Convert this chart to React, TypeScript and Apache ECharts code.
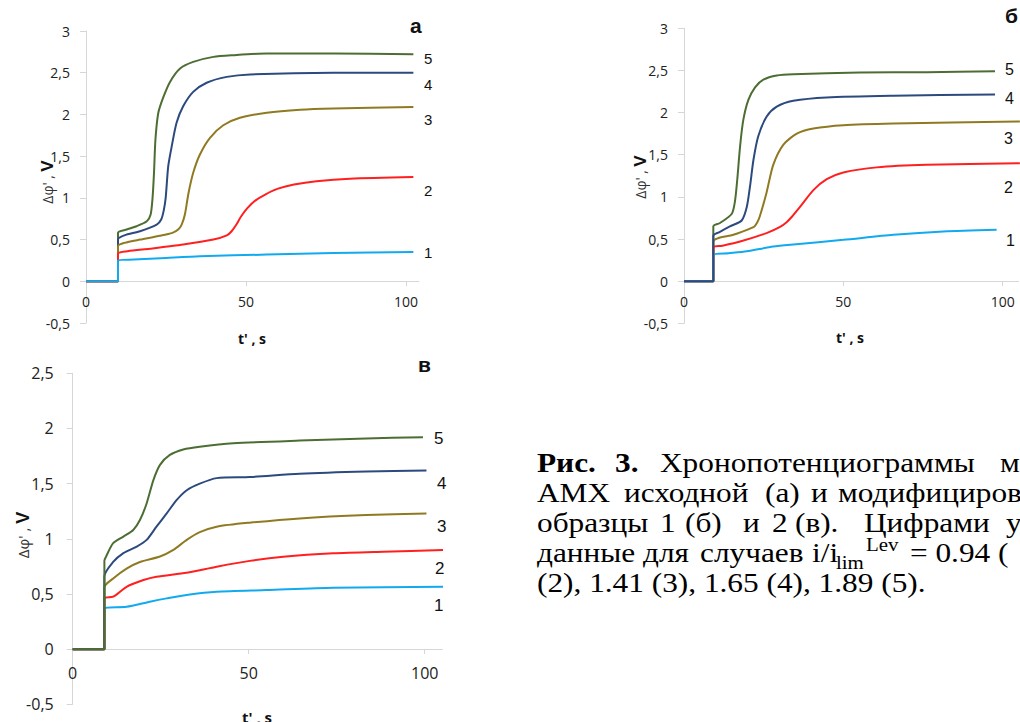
import React, { useEffect, useRef } from "react";
import * as echarts from "echarts";

const SANS = "'Open Sans', 'DejaVu Sans', sans-serif";
const ARIAL = "'Liberation Sans', Arial, sans-serif";
const SERIF = "'Liberation Serif', 'Times New Roman', serif";

// colours of curves 1..5
const curveColors = ["#12aaee", "#ff1f1f", "#8f7a22", "#2c4a7e", "#4d6e33"];
const curveNames = ["1", "2", "3", "4", "5"];

// Panel а — t' (s), Δφ' (V)
const a1 = [[0, 0], [10, 0], [10, 0.25], [15, 0.26], [25, 0.28], [35.6, 0.3], [56.5, 0.32], [77.3, 0.34], [102.3, 0.35]];
const a2 = [[0, 0], [10, 0], [10, 0.33], [13, 0.36], [20, 0.39], [30.4, 0.44], [39.8, 0.5], [44, 0.55], [45.5, 0.6], [47, 0.68], [48.5, 0.78], [50.5, 0.88], [53, 0.97], [56, 1.04], [60, 1.11], [65, 1.16], [72, 1.2], [82.5, 1.23], [102.3, 1.25]];
const a3 = [[0, 0], [10, 0], [10, 0.42], [12, 0.46], [16.9, 0.5], [23.1, 0.545], [27, 0.58], [28.8, 0.62], [29.9, 0.68], [30.9, 0.8], [32, 1.05], [33.5, 1.3], [35.6, 1.52], [38.75, 1.72], [42.9, 1.87], [48.1, 1.96], [56.5, 2.02], [66.9, 2.055], [77.3, 2.07], [102.3, 2.09]];
const a4 = [[0, 0], [10, 0], [10, 0.5], [12, 0.55], [16.9, 0.6], [22.1, 0.68], [23.5, 0.74], [24.3, 0.85], [24.9, 1.0], [25.7, 1.38], [26.8, 1.62], [28.3, 1.9], [30.4, 2.1], [33.5, 2.27], [37.7, 2.38], [44, 2.45], [51.3, 2.48], [77.3, 2.5], [102.3, 2.5]];
const a5 = [[0, 0], [10, 0], [10, 0.58], [12.7, 0.62], [15.8, 0.66], [19, 0.72], [20.2, 0.8], [20.8, 1.0], [21.25, 1.3], [21.7, 1.7], [22.6, 2.02], [24.2, 2.21], [26.25, 2.39], [29.4, 2.55], [33.5, 2.63], [39.8, 2.69], [46, 2.71], [56.5, 2.73], [77.3, 2.73], [102.3, 2.72]];

// Panel б
const b1 = [[0, 0], [9.2, 0], [9.2, 0.31], [14, 0.33], [19.7, 0.355], [28, 0.41], [34.3, 0.435], [50, 0.49], [65.7, 0.55], [81.4, 0.59], [98.1, 0.61]];
const b2 = [[0, 0], [9.2, 0], [9.2, 0.4], [12, 0.42], [17.6, 0.47], [25.9, 0.57], [30, 0.64], [32.2, 0.7], [34, 0.77], [36.4, 0.88], [40.6, 1.08], [44.8, 1.21], [50, 1.29], [60.5, 1.35], [76.2, 1.38], [105.4, 1.4]];
const b3 = [[0, 0], [9.2, 0], [9.2, 0.47], [15.5, 0.55], [21.8, 0.64], [23, 0.7], [23.8, 0.77], [25.9, 1.05], [28, 1.38], [31.2, 1.62], [35.4, 1.75], [40.6, 1.81], [50, 1.85], [65.7, 1.87], [105.4, 1.895]];
const b4 = [[0, 0], [9.2, 0], [9.2, 0.54], [11, 0.58], [14.4, 0.65], [18.1, 0.72], [19.7, 0.88], [20.7, 1.12], [21.8, 1.44], [23.3, 1.72], [25.9, 1.95], [29.1, 2.07], [34.3, 2.14], [44.8, 2.18], [65.7, 2.2], [97.6, 2.215]];
const b5 = [[0, 0], [9.2, 0], [9.2, 0.65], [11.3, 0.69], [15, 0.8], [16, 0.95], [16.7, 1.2], [17.6, 1.6], [18.6, 1.91], [20.2, 2.15], [22.3, 2.3], [24.9, 2.39], [29.1, 2.44], [34.3, 2.455], [55.2, 2.475], [76.2, 2.48], [97.6, 2.49]];

// Panel в
const c1 = [[0, 0], [9, 0], [9, 0.37], [15.3, 0.384], [21.9, 0.43], [26.7, 0.46], [33.3, 0.496], [40.9, 0.52], [55.1, 0.535], [74, 0.556], [105.2, 0.565]];
const c2 = [[0, 0], [9, 0], [9, 0.46], [11.5, 0.475], [15.3, 0.565], [20.1, 0.626], [23.8, 0.656], [32.4, 0.692], [40.9, 0.747], [50.3, 0.8], [59.8, 0.837], [74, 0.868], [88.2, 0.883], [105.2, 0.898]];
const c3 = [[0, 0], [9, 0], [9, 0.56], [11.5, 0.64], [15.3, 0.73], [19.1, 0.79], [24.8, 0.84], [28.6, 0.9], [32.4, 0.99], [36.1, 1.06], [40.9, 1.11], [50.3, 1.146], [64.5, 1.185], [83.4, 1.215], [100.5, 1.23]];
const c4 = [[0, 0], [9, 0], [9, 0.66], [11.5, 0.79], [14.4, 0.87], [18.2, 0.93], [21, 0.99], [23.8, 1.11], [26.7, 1.23], [29.5, 1.35], [32.4, 1.44], [36.1, 1.5], [40.9, 1.55], [50.3, 1.56], [64.5, 1.59], [83.4, 1.61], [100.5, 1.62]];
const c5 = [[0, 0], [9, 0], [9, 0.8], [9.5, 0.84], [11.5, 0.96], [14.4, 1.02], [17.2, 1.08], [19.1, 1.17], [21, 1.32], [22.9, 1.53], [24.8, 1.67], [27.6, 1.76], [31.4, 1.81], [36.1, 1.835], [45.6, 1.865], [64.5, 1.89], [83.4, 1.91], [99.5, 1.92]];

const panelA = [a1, a2, a3, a4, a5];
const panelB = [b1, b2, b3, b4, b5];
const panelC = [c1, c2, c3, c4, c5];

// tick values
const xTicks = [0, 50, 100];
const xMinorTicks = [50, 100];

const decimalComma = (v: number) => String(v).replace(".", ",");

// the time axis crosses the potential axis at zero; offset lifts it from the grid bottom
function xAxisFor(gridIndex: number, max: number, lift: number, margin: number, fontSize: number) {
  return {
    gridIndex,
    type: "value",
    min: 0,
    max,
    interval: 50,
    offset: -lift,
    axisLine: { onZero: false, lineStyle: { color: "#d6d6d6", width: 1 } },
    axisTick: { customValues: xMinorTicks, length: 5, lineStyle: { color: "#d6d6d6" } },
    axisLabel: { customValues: xTicks, margin, fontSize, color: "#222", fontFamily: SANS },
    splitLine: { show: false },
  };
}

function yAxisFor(gridIndex: number, max: number, margin: number, fontSize: number) {
  return {
    gridIndex,
    type: "value",
    min: -0.5,
    max,
    interval: 0.5,
    axisLine: { show: true, onZero: false, lineStyle: { color: "#d6d6d6", width: 1 } },
    axisTick: { show: true, length: 6, lineStyle: { color: "#d6d6d6" } },
    axisLabel: { margin, fontSize, color: "#222", fontFamily: SANS, formatter: decimalComma },
    splitLine: { show: false },
  };
}

function curves(data: number[][][], axisIndex: number, order: number[]) {
  return order.map((i, k) => ({
    type: "line",
    name: curveNames[i],
    xAxisIndex: axisIndex,
    yAxisIndex: axisIndex,
    data: data[i],
    showSymbol: false,
    symbol: "none",
    smooth: 0.25,
    z: 2 + k,
    lineStyle: { width: 2, color: curveColors[i] },
    itemStyle: { color: curveColors[i] },
  }));
}

function label(x: number, y: number, text: string, fontSize: number, extra: any = {}) {
  return {
    type: "text",
    x,
    y,
    silent: true,
    style: {
      text,
      fontSize,
      fontFamily: ARIAL,
      fill: "#111",
      align: "left",
      verticalAlign: "middle",
      ...extra,
    },
  };
}

function yTitle(x: number, y: number, small: number, big: number) {
  return {
    type: "text",
    x,
    y,
    rotation: Math.PI / 2,
    silent: true,
    style: {
      text: "{n|Δφ' , }{b|V}",
      align: "center",
      verticalAlign: "middle",
      rich: {
        n: { fontSize: small, fontFamily: SANS, fill: "#333" },
        b: { fontSize: big, fontFamily: ARIAL, fontWeight: "bold", fill: "#111" },
      },
    },
  };
}

function xTitle(x: number, y: number, fontSize: number) {
  return {
    type: "text",
    x,
    y,
    silent: true,
    style: { text: "t' , s", fontSize, fontWeight: "bold", fontFamily: SANS, fill: "#111", align: "center", verticalAlign: "middle" },
  };
}

const CAP_SIZE = 27;
const CAP_SCALE = 1.16;
function capWord(text: string, x: number, baseline: number, bold = false, size = CAP_SIZE) {
  return {
    type: "text",
    x,
    y: baseline,
    scaleX: CAP_SCALE,
    silent: true,
    style: {
      text,
      fontSize: size,
      fontFamily: SERIF,
      fontWeight: bold ? "bold" : "normal",
      fill: "#000",
      align: "left",
      verticalAlign: "bottom",
    },
  };
}

export default function App() {
  const ref = useRef<HTMLDivElement>(null);

  useEffect(() => {
    if (!ref.current) return;
    const chart = echarts.init(ref.current, undefined, { renderer: "svg" });

    const bl = [476, 506, 536, 566, 596];
    const captionEls = [
      capWord("Рис.", 537, bl[0], true),
      capWord("3.", 615, bl[0], true),
      capWord("Хронопотенциограммы", 660, bl[0]),
      capWord("м", 1000, bl[0]),
      capWord("АМХ", 537, bl[1]),
      capWord("исходной", 624, bl[1]),
      capWord("(а)", 765, bl[1]),
      capWord("и", 811, bl[1]),
      capWord("модифициров", 838, bl[1]),
      capWord("образцы", 537, bl[2]),
      capWord("1", 660, bl[2]),
      capWord("(б)", 685, bl[2]),
      capWord("и", 743, bl[2]),
      capWord("2", 772, bl[2]),
      capWord("(в).", 795, bl[2]),
      capWord("Цифрами", 864, bl[2]),
      capWord("у", 1006, bl[2]),
      capWord("данные", 537, bl[3]),
      capWord("для", 643, bl[3]),
      capWord("случаев", 700, bl[3]),
      capWord("i/i", 812, bl[3]),
      capWord("lim", 836, bl[3] + 6, false, 18),
      capWord("Lev", 866, bl[3] - 12, false, 18),
      capWord("= 0.94 (", 910, bl[3]),
      capWord("(2), 1.41 (3), 1.65 (4), 1.89 (5).", 537, bl[4]),
    ];

    chart.setOption({
      animation: false,
      backgroundColor: "#ffffff",
      grid: [
        { left: 86, top: 31, width: 332.8, height: 292 },
        { left: 684, top: 28.3, width: 334.6, height: 295 },
        { left: 72.7, top: 373.3, width: 369.6, height: 331 },
      ],
      xAxis: [
        xAxisFor(0, 104, 41.7, 13, 14),
        xAxisFor(1, 105, 42.2, 13, 14),
        xAxisFor(2, 105, 55.2, 16, 16),
      ],
      yAxis: [yAxisFor(0, 3, 16, 14), yAxisFor(1, 3, 16, 14), yAxisFor(2, 2.5, 19, 16)],
      series: [
        ...curves(panelA, 0, [4, 3, 2, 1, 0]),
        ...curves(panelB, 1, [4, 2, 1, 0, 3]),
        ...curves(panelC, 2, [0, 1, 2, 3, 4]),
      ],
      graphic: {
        elements: [
          // panel letters
          label(410, 25, "а", 21, { fontWeight: "bold" }),
          label(1005, 15, "б", 21, { fontWeight: "bold" }),
          label(418, 364, "в", 21, { fontWeight: "bold" }),
          // curve numbers, panel а
          label(424, 58, "5", 15), label(424, 84, "4", 15), label(424, 119, "3", 15), label(424, 190, "2", 15), label(424, 252, "1", 15),
          // panel б
          label(1005, 69, "5", 16), label(1005, 98, "4", 16), label(1004, 138, "3", 16), label(1004, 187, "2", 16), label(1006, 240, "1", 16),
          // panel в
          label(434, 438, "5", 17), label(437, 483, "4", 17), label(437, 526, "3", 17), label(435, 568, "2", 17), label(434, 605, "1", 17),
          // axis titles
          yTitle(47, 182, 14, 17),
          yTitle(640, 177, 14, 17),
          yTitle(23, 535, 15, 18),
          xTitle(252, 338, 14),
          xTitle(850, 337, 14),
          xTitle(257, 717, 15),
          ...captionEls,
        ],
      },
    });

    return () => chart.dispose();
  }, []);

  return (
    <div
      ref={ref}
      style={{ position: "absolute", left: 0, top: 0, width: 1020, height: 722, background: "#fff" }}
    />
  );
}
